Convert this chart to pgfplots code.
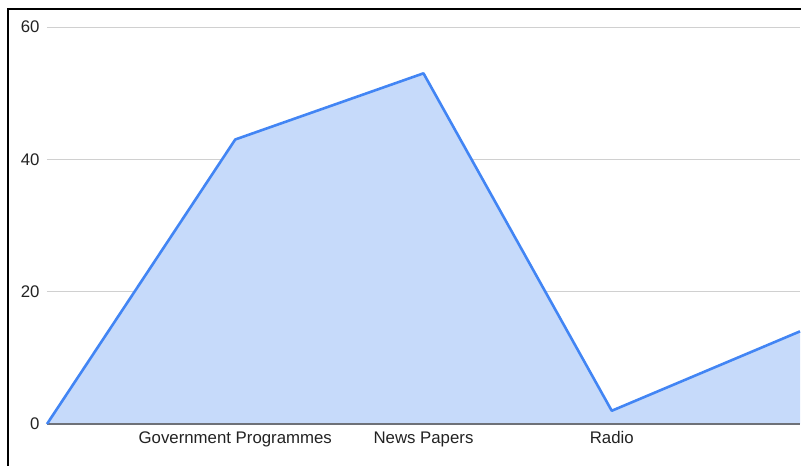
\documentclass[border=0pt]{standalone}
\usepackage{pgfplots}
\pgfplotsset{compat=1.18}
\usepackage{fontspec}
\setmainfont{Liberation Sans}
\definecolor{lineblue}{HTML}{4285F4}
\definecolor{fillblue}{HTML}{C6DAFA}
\definecolor{gridgray}{HTML}{D0D0D0}
\definecolor{basegray}{HTML}{6E7178}
\definecolor{textgray}{HTML}{222222}
\begin{document}
\begin{tikzpicture}[x=1pt,y=1pt]
\useasboundingbox (0,0) rectangle (801,466);
\begin{axis}[
  at={(47pt,42pt)}, anchor=south west,
  width=753pt, height=397pt, scale only axis,
  xmin=0, xmax=4, ymin=0, ymax=60,
  axis line style={draw=none},
  xtick={1,2,3},
  xticklabels={Government Programmes, News Papers, Radio},
  ytick={0,20,40,60},
  ymajorgrids, grid style={gridgray, line width=1pt},
  major tick length=0pt,
  tick label style={font=\fontsize{16.8}{19}\selectfont, text=textgray},
  /pgf/number format/assume math mode=true,
  yticklabel style={xshift=-4pt},
  xticklabel style={yshift=-4pt},
  clip=false,
]
\addplot[draw=none, fill=fillblue] coordinates {(0,0) (1,43) (2,53) (3,2) (4,14)} \closedcycle;
\draw[basegray, line width=1.2pt] (axis cs:0,0) -- (axis cs:4,0);
\addplot[lineblue, line width=2.6pt, line join=round] coordinates {(0,0) (1,43) (2,53) (3,2) (4,14)};
\end{axis}
\draw[black, line width=2pt] (8,0) -- (8,457) -- (801,457);
\end{tikzpicture}
\end{document}
